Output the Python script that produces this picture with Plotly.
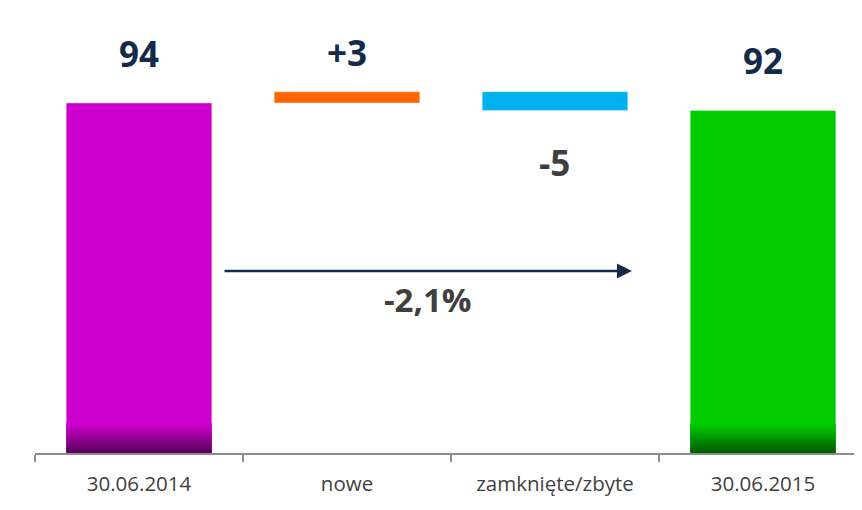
import plotly.graph_objects as go

categories = ["30.06.2014", "nowe", "zamknięte/zbyte", "30.06.2015"]
start_value = 94
new_value = 3
closed_value = -5
end_value = 92
change_label = "-2,1%"

bar_labels = ["94", "+3", "-5", "92"]

fig = go.Figure()

# main bars
bar_colors = ["#cc00cc", "#ff6600", "#00b0f0", "#00cc00"]
bases = [0, start_value, start_value + new_value + closed_value, 0]
heights = [start_value, new_value, -closed_value, end_value]
fig.add_trace(go.Bar(
    x=categories, y=heights, base=bases, width=0.70,
    marker=dict(color=bar_colors, line=dict(color="rgba(255,255,255,0.35)", width=1)),
    hoverinfo="skip", showlegend=False,
))

# dark gradient at bottom of the total bars
dark = {"30.06.2014": ((204, 0, 204), (90, 0, 90)), "30.06.2015": ((0, 204, 0), (0, 90, 0))}
nseg = 16
seg_h = 0.5
for i in range(nseg):
    t = i / (nseg - 1)
    xs, cols = [], []
    for cat, (c_top, c_bot) in dark.items():
        r = [int(c_bot[k] + (c_top[k] - c_bot[k]) * t) for k in range(3)]
        xs.append(cat)
        cols.append(f"rgb({r[0]},{r[1]},{r[2]})")
    fig.add_trace(go.Bar(
        x=xs, y=[seg_h] * len(xs), base=[i * seg_h] * len(xs), width=0.70,
        marker=dict(color=cols, line=dict(width=0)),
        hoverinfo="skip", showlegend=False,
    ))

navy = "#132a4a"
grey_txt = "#3f3f3f"
font_fam = "Open Sans, Noto Sans, sans-serif"

# value labels
fig.add_annotation(x=categories[0], y=start_value + 13.4, text=f"<b>{bar_labels[0]}</b>",
                   showarrow=False, font=dict(size=35, color=navy, family=font_fam))
fig.add_annotation(x=categories[1], y=start_value + new_value + 10.5, text=f"<b>{bar_labels[1]}</b>",
                   showarrow=False, font=dict(size=35, color=navy, family=font_fam))
fig.add_annotation(x=categories[2], y=end_value - 14.1, text=f"<b>{bar_labels[2]}</b>",
                   showarrow=False, font=dict(size=35, color=grey_txt, family=font_fam))
fig.add_annotation(x=categories[3], y=end_value + 13.3, text=f"<b>{bar_labels[3]}</b>",
                   showarrow=False, font=dict(size=35, color=navy, family=font_fam))

# change arrow and label
fig.add_annotation(x=2.37, y=48.9, ax=0.404, ay=48.9, xref="x", yref="y", axref="x", ayref="y",
                   text="", showarrow=True, arrowhead=2, arrowsize=1.2, arrowwidth=2.5,
                   arrowcolor=navy)
fig.add_annotation(x=1.39, y=41.1, text=f"<b>{change_label}</b>", showarrow=False,
                   font=dict(size=33, color=grey_txt, family=font_fam))

fig.update_layout(
    width=854, height=502,
    margin=dict(l=27, r=0, t=0, b=57),
    paper_bgcolor="white", plot_bgcolor="white",
    barmode="overlay", showlegend=False,
    xaxis=dict(
        type="category", range=[-0.5, 3.476], showline=True, linecolor="#8c8c8c", linewidth=1.5,
        ticks="outside", tickson="boundaries", ticklen=7, tickcolor="#8c8c8c", tickwidth=1.5,
        tickfont=dict(size=20.5, color=grey_txt, family=font_fam), ticklabelstandoff=12,
        showgrid=False, zeroline=False, fixedrange=True,
    ),
    yaxis=dict(range=[0, 119.5], visible=False, showgrid=False, zeroline=False, fixedrange=True),
)

fig.write_html("out.html")
